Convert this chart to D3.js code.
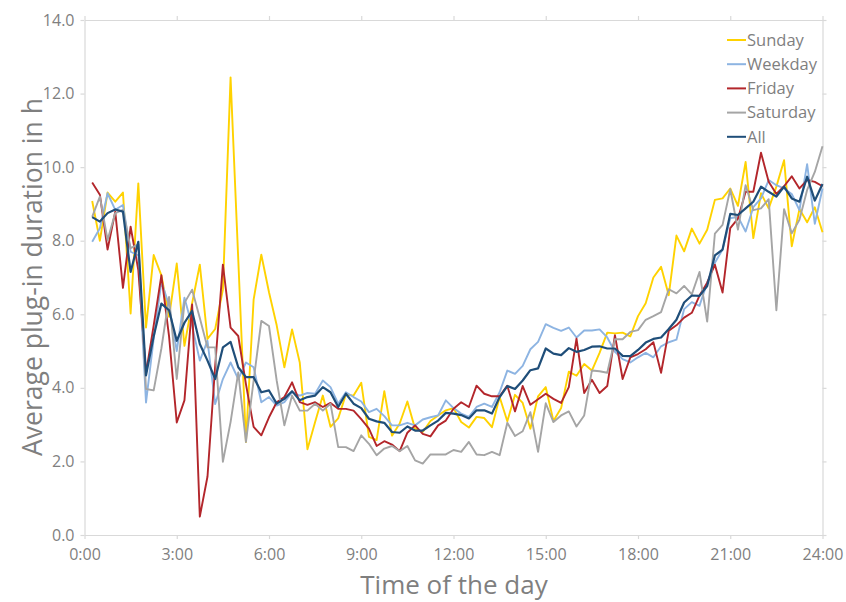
<!DOCTYPE html>
<html>
<head>
<meta charset="utf-8">
<script src="https://cdn.jsdelivr.net/npm/d3@7/dist/d3.min.js"></script>
<style>
  html, body { margin: 0; padding: 0; background: #fff; }
  svg { display: block; }
  text { font-family: "Open Sans", "Noto Sans", sans-serif; fill: #7f7f7f; }
</style>
</head>
<body>
<svg id="chart" width="846" height="602"></svg>
<script>
// Quarter-hour slots, 0:15 … 24:00 (hours of the day)
const slots = d3.range(1, 97).map(i => i / 4);

const sunday = [
  9.08, 8.00, 9.31, 9.06, 9.31, 6.02, 9.56, 5.64, 7.61, 7.06, 5.93, 7.38,
  5.14, 6.30, 7.35, 5.33, 5.60, 6.67, 12.44, 7.50, 2.53, 6.40, 7.62, 6.60,
  5.70, 4.56, 5.59, 4.69, 2.33, 3.07, 3.79, 2.94, 3.17, 3.82, 3.79, 4.14,
  2.67, 2.58, 3.91, 2.70, 3.03, 3.63, 2.89, 2.80, 3.10, 3.25, 3.39, 3.45,
  3.07, 2.92, 3.21, 3.18, 2.93, 3.75, 3.09, 3.81, 3.59, 2.89, 3.77, 4.02,
  3.10, 3.45, 4.44, 4.33, 4.65, 4.47, 4.95, 5.50, 5.48, 5.50, 5.40, 5.95,
  6.30, 7.00, 7.29, 6.52, 8.14, 7.71, 8.33, 7.92, 8.30, 9.11, 9.15, 9.42,
  8.95, 10.14, 8.07, 9.29, 8.88, 9.47, 10.19, 7.85, 8.86, 8.50, 8.91, 8.23
];

const weekday = [
  7.97, 8.34, 9.29, 8.84, 8.97, 7.70, 7.60, 3.60, 5.34, 6.88, 6.25, 5.00,
  6.45, 5.68, 4.74, 5.28, 3.56, 4.24, 4.69, 4.24, 4.69, 4.56, 3.61, 3.75,
  3.52, 3.61, 3.88, 3.79, 3.86, 3.84, 4.20, 4.02, 3.57, 3.88, 3.75, 3.63,
  3.34, 3.43, 3.23, 2.98, 2.98, 3.05, 2.98, 3.14, 3.20, 3.25, 3.66, 3.45,
  3.30, 3.21, 3.48, 3.57, 3.48, 3.88, 4.47, 4.38, 4.60, 5.05, 5.25, 5.73,
  5.63, 5.55, 5.64, 5.37, 5.56, 5.56, 5.59, 5.37, 4.98, 4.78, 4.69, 4.83,
  4.95, 4.83, 5.13, 5.24, 5.31, 6.14, 6.33, 6.23, 6.86, 7.40, 7.76, 8.61,
  8.65, 8.25, 8.91, 9.15, 9.65, 9.51, 9.42, 9.27, 8.83, 10.08, 8.46, 9.42
];

const friday = [
  9.58, 9.25, 7.76, 8.79, 6.72, 8.38, 7.20, 4.40, 5.70, 7.06, 5.40, 3.06,
  3.66, 6.27, 0.50, 1.59, 4.60, 7.35, 5.64, 5.41, 4.10, 2.94, 2.71, 3.20,
  3.61, 3.75, 4.15, 3.61, 3.54, 3.61, 3.48, 3.59, 3.43, 3.43, 3.38, 3.15,
  2.89, 2.42, 2.55, 2.46, 2.28, 2.78, 2.98, 2.75, 2.68, 2.98, 3.11, 3.43,
  3.61, 3.48, 4.06, 3.84, 3.77, 3.77, 4.06, 3.36, 4.05, 3.54, 3.69, 3.84,
  3.70, 3.59, 4.02, 5.34, 3.86, 4.22, 3.86, 4.05, 5.43, 4.24, 4.83, 4.92,
  5.05, 5.24, 4.41, 5.55, 5.70, 5.91, 6.04, 6.51, 6.86, 7.35, 6.59, 8.34,
  8.60, 9.33, 9.33, 10.39, 9.60, 9.27, 9.48, 9.75, 9.42, 9.65, 9.60, 9.48
];

const saturday = [
  8.65, 9.20, 8.02, 8.75, 8.84, 7.80, 7.90, 3.97, 3.93, 5.07, 6.47, 4.24,
  6.31, 6.67, 5.90, 5.10, 5.10, 1.99, 3.07, 4.42, 2.53, 4.20, 5.82, 5.68,
  4.20, 2.98, 3.79, 3.38, 3.38, 3.57, 3.38, 3.57, 2.39, 2.39, 2.28, 2.71,
  2.48, 2.17, 2.35, 2.42, 2.28, 2.42, 2.03, 1.94, 2.19, 2.19, 2.19, 2.31,
  2.26, 2.53, 2.19, 2.17, 2.26, 2.17, 3.05, 2.69, 2.82, 3.34, 2.26, 3.58,
  3.07, 3.25, 3.36, 2.95, 3.25, 4.47, 4.45, 4.41, 5.32, 5.32, 5.52, 5.57,
  5.85, 5.95, 6.06, 6.68, 6.57, 6.77, 6.54, 7.15, 5.80, 8.19, 8.43, 9.40,
  8.30, 9.51, 8.83, 8.88, 9.13, 6.11, 8.86, 8.20, 8.57, 9.38, 9.87, 10.57
];

const all = [
  8.64, 8.52, 8.75, 8.85, 8.79, 7.15, 7.97, 4.34, 5.40, 6.29, 6.11, 5.28,
  5.77, 6.09, 5.19, 4.74, 4.24, 5.10, 5.25, 4.56, 4.29, 4.29, 3.88, 3.93,
  3.57, 3.70, 3.91, 3.66, 3.75, 3.79, 4.02, 3.88, 3.48, 3.84, 3.57, 3.45,
  3.16, 3.09, 3.05, 2.80, 2.78, 2.95, 2.84, 2.84, 2.98, 3.11, 3.32, 3.30,
  3.26, 3.17, 3.39, 3.39, 3.30, 3.75, 4.05, 3.97, 4.20, 4.48, 4.53, 5.07,
  4.93, 4.89, 5.08, 4.98, 5.03, 5.12, 5.13, 5.07, 5.07, 4.87, 4.86, 5.03,
  5.23, 5.33, 5.37, 5.60, 5.85, 6.32, 6.51, 6.50, 6.77, 7.60, 7.76, 8.73,
  8.70, 8.88, 9.06, 9.47, 9.33, 9.20, 9.47, 9.15, 9.06, 9.74, 9.09, 9.54
];

const seriesNames = ["Sunday", "Weekday", "Friday", "Saturday", "All"];
const seriesValues = [sunday, weekday, friday, saturday, all];
const seriesColors = ["#ffd200", "#8db4e2", "#b3262b", "#a5a5a5", "#1f4e79"];

const xTickHours = [0, 3, 6, 9, 12, 15, 18, 21, 24];
const xTickLabels = ["0:00", "3:00", "6:00", "9:00", "12:00", "15:00", "18:00", "21:00", "24:00"];
const yTicks = [0, 2, 4, 6, 8, 10, 12, 14];

const svg = d3.select("#chart");
const plotLeft = 84.5, plotRight = 822.5, plotTop = 20, plotBottom = 535;

const x = d3.scaleLinear().domain([0, 24]).range([plotLeft, plotRight]);
const y = d3.scaleLinear().domain([0, 14]).range([plotBottom, plotTop]);

const axisColor = "#d9d9d9";

// Frame with outward tick marks on all four sides
const gBottom = svg.append("g").attr("transform", `translate(0,${plotBottom})`)
  .call(d3.axisBottom(x).tickValues(xTickHours).tickSize(4).tickSizeOuter(0)
    .tickFormat((d, i) => xTickLabels[i]).tickPadding(10));
const gTop = svg.append("g").attr("transform", `translate(0,${plotTop})`)
  .call(d3.axisTop(x).tickValues(xTickHours).tickSize(4).tickSizeOuter(0).tickFormat(""));
const gLeft = svg.append("g").attr("transform", `translate(${plotLeft},0)`)
  .call(d3.axisLeft(y).tickValues(yTicks).tickSize(4).tickSizeOuter(0)
    .tickFormat(d3.format(".1f")).tickPadding(6));
const gRight = svg.append("g").attr("transform", `translate(${plotRight},0)`)
  .call(d3.axisRight(y).tickValues(yTicks).tickSize(4).tickSizeOuter(0).tickFormat(""));

[gBottom, gTop, gLeft, gRight].forEach(g => {
  g.select(".domain").attr("stroke", axisColor).attr("stroke-width", 1.2);
  g.selectAll(".tick line").attr("stroke", axisColor).attr("stroke-width", 1.2);
  g.selectAll(".tick text").attr("fill", "#7f7f7f").style("font-size", "16px")
    .style("font-family", "'Open Sans', 'Noto Sans', sans-serif");
});

// Axis titles
svg.append("text")
  .attr("x", 454).attr("y", 594)
  .attr("text-anchor", "middle")
  .style("font-size", "26px")
  .text("Time of the day");

svg.append("text")
  .attr("transform", `translate(42,277) rotate(-90)`)
  .attr("text-anchor", "middle")
  .style("font-size", "26.5px")
  .text("Average plug-in duration in h");

// Series lines
const line = d3.line().x((d, i) => x(slots[i])).y(d => y(d));
seriesValues.forEach((vals, k) => {
  svg.append("path")
    .datum(vals)
    .attr("fill", "none")
    .attr("stroke", seriesColors[k])
    .attr("stroke-width", k === 4 ? 2.2 : 1.9)
    .attr("stroke-linejoin", "round")
    .attr("d", line);
});

// Legend
const legend = svg.append("g").attr("transform", "translate(727,40)");
seriesNames.forEach((name, k) => {
  const g = legend.append("g").attr("transform", `translate(0,${k * 24.2})`);
  g.append("line").attr("x1", 0).attr("x2", 19).attr("y1", 0).attr("y2", 0)
    .attr("stroke", seriesColors[k]).attr("stroke-width", 2);
  g.append("text").attr("x", 20).attr("y", 0).attr("dy", "0.35em")
    .style("font-size", "16.5px").text(name);
});
</script>
</body>
</html>
